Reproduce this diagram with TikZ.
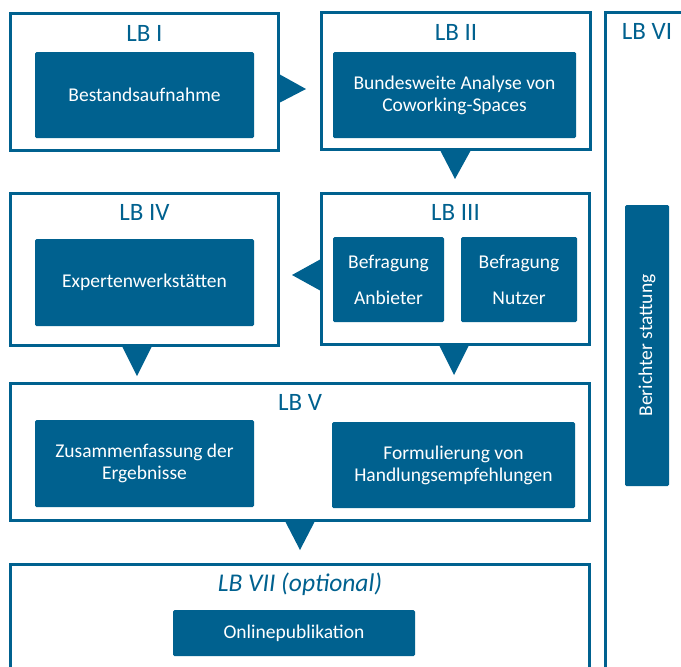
\documentclass[tikz,border=0pt]{standalone}
\usepackage{fontspec}
\setmainfont{Carlito}
\usetikzlibrary{calc}
\definecolor{lbblue}{RGB}{0,97,143}
\begin{document}
\begin{tikzpicture}[x=1pt,y=-1pt,
  outerbox/.style={draw=lbblue, line width=3pt, rectangle, inner sep=0pt, fill=white},
  innerbox/.style={fill=lbblue, rectangle, rounded corners=1.5pt, inner sep=0pt, text=white, font=\fontsize{19.5}{22}\selectfont, align=center},
  lbtitle/.style={text=lbblue, font=\fontsize{25}{28}\selectfont, anchor=base, inner sep=0pt},
  tri/.style={fill=lbblue}]
\useasboundingbox (0,0) rectangle (681,667);

% outer boxes
\node[outerbox, minimum width=268pt, minimum height=137pt] (lb1) at (144.5,82) {};
\node[outerbox, minimum width=269pt, minimum height=137pt] (lb2) at (456,81) {};
\node[outerbox, minimum width=268pt, minimum height=152pt] (lb4) at (144.5,269.5) {};
\node[outerbox, minimum width=268pt, minimum height=151pt] (lb3) at (455.5,269) {};
\node[outerbox, minimum width=579pt, minimum height=137pt] (lb5) at (300,452) {};
\node[outerbox, minimum width=579pt, minimum height=124pt] (lb7) at (300,626.5) {};
\node[outerbox, minimum width=83pt, minimum height=676pt] (lb6) at (647,350.5) {};

% titles
\node[lbtitle] (t1) at ($(lb1.north)+(0,29)$) {LB I};
\node[lbtitle] (t2) at ($(lb2.north)+(0,29)$) {LB II};
\node[lbtitle] (t3) at ($(lb3.north)+(0,28)$) {LB III};
\node[lbtitle] (t4) at ($(lb4.north)+(0,28)$) {LB IV};
\node[lbtitle] (t5) at ($(lb5.north)+(0,28)$) {LB V};
\node[lbtitle] (t6) at ($(lb6.north)+(0,28)$) {LB VI};
\node[lbtitle, font=\fontsize{25.5}{28}\selectfont\itshape] (t7) at ($(lb7.north)+(0,28)$) {LB VII (optional)};

% inner boxes
\node[innerbox, minimum width=219pt, minimum height=86pt] (b1) at (144.5,95) {Bestandsaufnahme};
\node[innerbox, minimum width=243pt, minimum height=86pt] (b2) at (454.5,95) {Bundesweite Analyse von\\Coworking-Spaces};
\node[innerbox, minimum width=219pt, minimum height=87pt] (b4) at (144.5,282.5) {Expertenwerkstätten};
\node[innerbox, minimum width=111pt, minimum height=85pt, font=\fontsize{19.5}{36}\selectfont] (b3a) at (388.5,279.5) {Befragung\\Anbieter};
\node[innerbox, minimum width=116pt, minimum height=85pt, font=\fontsize{19.5}{36}\selectfont] (b3b) at (519,279.5) {Befragung\\Nutzer};
\node[innerbox, minimum width=219pt, minimum height=87pt] (b5a) at (144.5,463.5) {Zusammenfassung der\\Ergebnisse};
\node[innerbox, minimum width=243pt, minimum height=86pt] (b5b) at (453.5,465) {Formulierung von\\Handlungsempfehlungen};
\node[innerbox, minimum width=242pt, minimum height=46pt] (b7) at (294,633) {Onlinepublikation};
\node[innerbox, minimum width=44pt, minimum height=281pt] (b6) at (647,345.5) {};
\node[rotate=90, text=white, font=\fontsize{19.5}{22}\selectfont, inner sep=0pt] (b6t) at (b6.center) {Berichter stattung};

% triangle connectors
\fill[tri] ($(lb1.east)+(-1,-8)$) -- ($(lb1.east)+(26,7)$) -- ($(lb1.east)+(-1,21)$) -- cycle;
\fill[tri] ($(lb2.south)+(-16,-1)$) -- ($(lb2.south)+(-1,28)$) -- ($(lb2.south)+(15,-1)$) -- cycle;
\fill[tri] ($(lb3.west)+(1,-10)$) -- ($(lb3.west)+(-28,6)$) -- ($(lb3.west)+(1,22)$) -- cycle;
\fill[tri] ($(lb4.south)+(-22.5,-1)$) -- ($(lb4.south)+(-7.5,29)$) -- ($(lb4.south)+(7.5,-1)$) -- cycle;
\fill[tri] ($(lb3.south)+(-16.5,-1)$) -- ($(lb3.south)+(-1.5,29)$) -- ($(lb3.south)+(13.5,-1)$) -- cycle;
\fill[tri] ($(lb5.south)+(-15,-1)$) -- ($(lb5.south)+(0,28)$) -- ($(lb5.south)+(15,-1)$) -- cycle;
\end{tikzpicture}
\end{document}
